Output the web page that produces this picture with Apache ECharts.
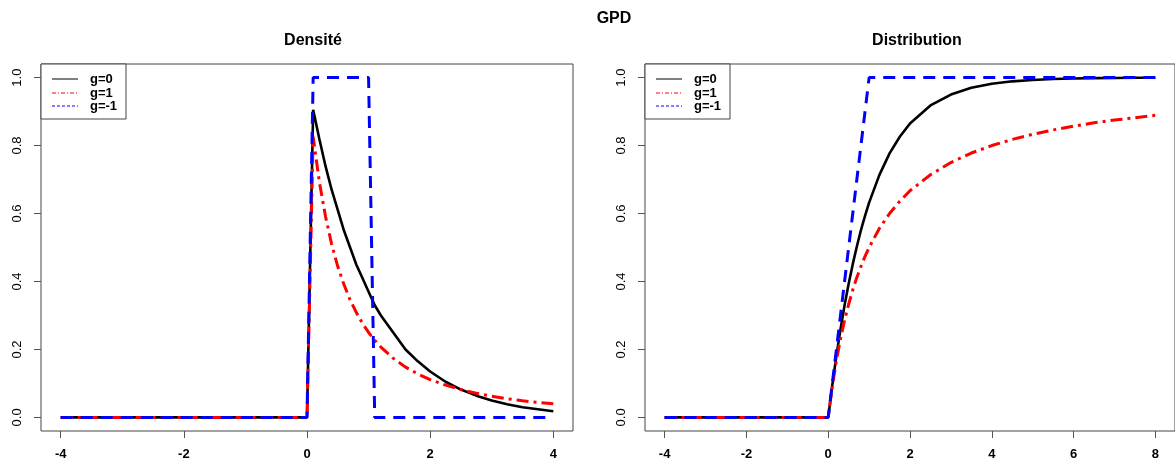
<!DOCTYPE html>
<html>
<head>
<meta charset="utf-8">
<script src="https://cdn.jsdelivr.net/npm/echarts@6/dist/echarts.min.js"></script>
<style>
  html, body { margin: 0; padding: 0; background: #fff; }
  #chart { width: 1175px; height: 461px; }
</style>
</head>
<body>
<div id="chart"></div>
<script>
// GPD (sigma = 1) for three shape parameters g = 0, 1, -1

// Density panel
const densX  = [-4, 0, 0.1, 0.2, 0.3, 0.4, 0.5, 0.6, 0.7, 0.8, 0.9, 1.0, 1.1, 1.2, 1.4, 1.6, 1.8, 2.0, 2.25, 2.5, 2.75, 3.0, 3.25, 3.5, 3.75, 4.0];
const densG0 = [0, 0, 0.905, 0.82, 0.74, 0.67, 0.61, 0.55, 0.50, 0.45, 0.41, 0.37, 0.33, 0.30, 0.25, 0.20, 0.165, 0.135, 0.105, 0.082, 0.064, 0.05, 0.039, 0.030, 0.024, 0.018];
const densG1 = [0, 0, 0.826, 0.694, 0.592, 0.51, 0.444, 0.391, 0.346, 0.309, 0.277, 0.25, 0.227, 0.207, 0.174, 0.148, 0.128, 0.111, 0.095, 0.082, 0.071, 0.0625, 0.055, 0.049, 0.044, 0.04];
const densGm1 = [0, 0, 1, 1, 1, 1, 1, 1, 1, 1, 1, 1, 0, 0, 0, 0, 0, 0, 0, 0, 0, 0, 0, 0, 0, 0];

// Distribution panel
const cdfX   = [-4, 0, 0.1, 0.2, 0.3, 0.4, 0.5, 0.6, 0.7, 0.8, 0.9, 1.0, 1.25, 1.5, 1.75, 2, 2.5, 3, 3.5, 4, 4.5, 5, 5.5, 6, 6.5, 7, 7.5, 8];
const cdfG0  = [0, 0, 0.095, 0.181, 0.259, 0.33, 0.393, 0.451, 0.503, 0.551, 0.593, 0.632, 0.713, 0.777, 0.826, 0.865, 0.918, 0.95, 0.97, 0.982, 0.989, 0.993, 0.996, 0.9975, 0.9985, 0.999, 0.9994, 0.9997];
const cdfG1  = [0, 0, 0.091, 0.167, 0.231, 0.286, 0.333, 0.375, 0.412, 0.444, 0.474, 0.5, 0.556, 0.6, 0.636, 0.667, 0.714, 0.75, 0.778, 0.8, 0.818, 0.833, 0.846, 0.857, 0.867, 0.875, 0.882, 0.889];
const cdfGm1 = [0, 0, 0.1, 0.2, 0.3, 0.4, 0.5, 0.6, 0.7, 0.8, 0.9, 1, 1, 1, 1, 1, 1, 1, 1, 1, 1, 1, 1, 1, 1, 1, 1, 1];

// Axis ticks
const densTicks = [-4, -2, 0, 2, 4];
const cdfTicks  = [-4, -2, 0, 2, 4, 6, 8];
const yTicks    = [0, 0.2, 0.4, 0.6, 0.8, 1.0];

const seriesNames = ['g=0', 'g=1', 'g=-1'];
const seriesColors = ['#000000', '#ff0000', '#0000ff'];

const pairs = (xs, ys) => xs.map((x, i) => [x, ys[i]]);

const FONT = '"Liberation Sans", Arial, sans-serif';
const GRID_TOP = 64, GRID_H = 370;
const grids = [
  { left: 41, top: GRID_TOP, width: 532, height: GRID_H },
  { left: 645, top: GRID_TOP, width: 532, height: GRID_H }
];

const lineStyles = [
  { width: 2.6, type: 'solid' },
  { width: 3, type: [12, 5, 3, 5] },
  { width: 3, type: [12, 8] }
];
const legendStyles = [
  { lineWidth: 1 },
  { lineWidth: 1, lineDash: [4, 2, 1, 2] },
  { lineWidth: 1, lineDash: [3, 2] }
];

function xAxisFor(idx, ticks, min, max) {
  return {
    gridIndex: idx, type: 'value', min: min, max: max, position: 'bottom',
    axisLine: { show: false, onZero: false },
    splitLine: { show: false },
    axisTick: { show: true, length: 7, customValues: ticks, lineStyle: { color: '#555', width: 1 } },
    axisLabel: {
      customValues: ticks, margin: 17, color: '#000',
      fontFamily: FONT, fontWeight: 'bold', fontSize: 13,
      formatter: v => String(v)
    }
  };
}
function yAxisFor(idx) {
  return {
    gridIndex: idx, type: 'value', min: -0.04, max: 1.04, position: 'left',
    axisLine: { show: false, onZero: false },
    splitLine: { show: false },
    axisTick: { show: true, length: 7, customValues: yTicks, lineStyle: { color: '#555', width: 1 } },
    axisLabel: {
      customValues: yTicks, margin: 24, rotate: 90, color: '#000',
      fontFamily: FONT, fontSize: 13,
      verticalAlign: 'middle', align: 'center',
      formatter: v => v.toFixed(1)
    }
  };
}

function makeSeries(idx, xs, ysList) {
  return ysList.map((ys, k) => ({
    name: seriesNames[k], type: 'line',
    xAxisIndex: idx, yAxisIndex: idx,
    data: pairs(xs, ys),
    showSymbol: false, symbol: 'none', smooth: false,
    lineStyle: { color: seriesColors[k], width: lineStyles[k].width, type: lineStyles[k].type, cap: 'butt' },
    z: 2 + k, silent: true
  }));
}

function legendBox(g) {
  const x = g.left, y = g.top;
  const children = [{
    type: 'rect', shape: { x: x, y: y, width: 85, height: 55 },
    style: { fill: '#fff', stroke: '#444', lineWidth: 1 }
  }];
  const rows = [15, 29, 42];
  rows.forEach((dy, k) => {
    children.push({
      type: 'line', shape: { x1: x + 11, y1: y + dy, x2: x + 37, y2: y + dy },
      style: Object.assign({ stroke: seriesColors[k] }, legendStyles[k])
    });
    children.push({
      type: 'text', x: x + 49, y: y + dy,
      style: {
        text: seriesNames[k], fill: '#000',
        fontFamily: FONT, fontWeight: 'bold', fontSize: 13,
        verticalAlign: 'middle', align: 'left'
      }
    });
  });
  return { type: 'group', children: children, z: 100 };
}

const chart = echarts.init(document.getElementById('chart'), null, { renderer: 'canvas' });
chart.setOption({
  animation: false,
  backgroundColor: '#fff',
  title: [
    { text: 'GPD', left: 609, top: 6, textAlign: 'center', textStyle: { fontFamily: FONT, fontWeight: 'bold', fontSize: 16, color: '#000' } },
    { text: 'Densité', left: 308, top: 28, textAlign: 'center', textStyle: { fontFamily: FONT, fontWeight: 'bold', fontSize: 16, color: '#000' } },
    { text: 'Distribution', left: 912, top: 28, textAlign: 'center', textStyle: { fontFamily: FONT, fontWeight: 'bold', fontSize: 16, color: '#000' } }
  ],
  grid: grids.map(g => Object.assign({ show: true, borderColor: '#444', borderWidth: 1, backgroundColor: 'transparent', containLabel: false }, g)),
  xAxis: [xAxisFor(0, densTicks, -4.32, 4.32), xAxisFor(1, cdfTicks, -4.48, 8.48)],
  yAxis: [yAxisFor(0), yAxisFor(1)],
  series: [].concat(
    makeSeries(0, densX, [densG0, densG1, densGm1]),
    makeSeries(1, cdfX, [cdfG0, cdfG1, cdfGm1])
  ),
  graphic: grids.map(legendBox)
});
</script>
</body>
</html>
